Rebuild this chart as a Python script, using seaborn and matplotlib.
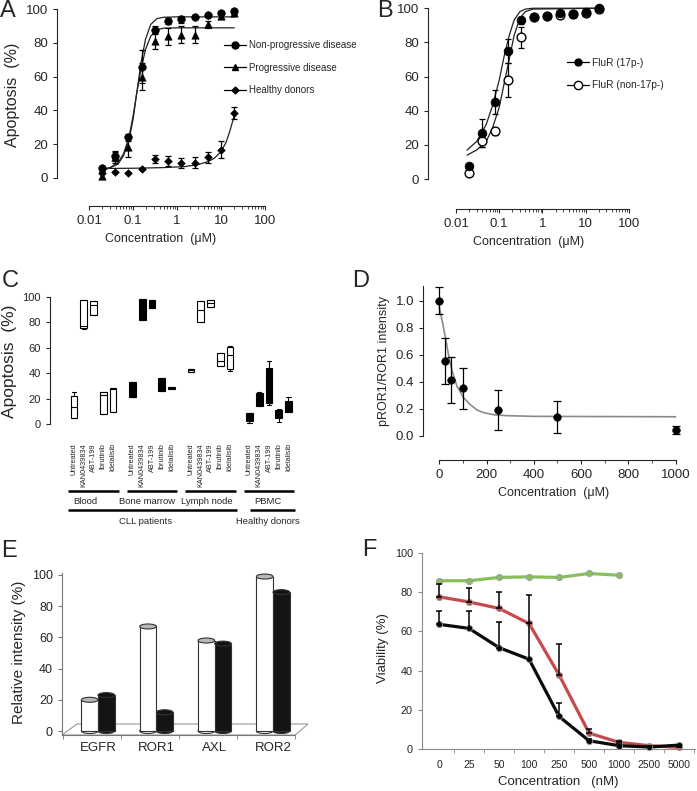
import numpy as np
import pandas as pd
import seaborn as sns
import matplotlib.pyplot as plt
import matplotlib.transforms as mtransforms
from matplotlib.lines import Line2D
from matplotlib.patches import Ellipse, Polygon
from matplotlib.ticker import FixedLocator

W, H = 697, 791

# ---------------- data ----------------
# panel A / B : concentration (uM)
conc_um = [0.0195, 0.039, 0.078, 0.156, 0.3125, 0.625, 1.25, 2.5, 5, 10, 20]
np_mean = [5.5, 13, 24, 66, 88, 93, 94, 95.5, 96.5, 98, 99]
np_err = [1.5, 3, 2, 10, 2, 2, 2, 1, 1, 1, 1]
pd_mean = [1, 12, 18, 60, 81, 84, 85, 85, 91, 96, 98]
pd_err = [1.5, 3, 5.5, 8, 4.5, 5, 5, 5, 2, 1.5, 1]
hd_mean = [2.5, 3.5, 3, 5, 11, 10, 8.5, 9, 12, 16.5, 38.5]
hd_err = [0.5, 0.5, 0.5, 0.5, 2.5, 3, 3, 3, 3.5, 5, 3.5]

fitA_x = [0.0195, 0.03, 0.045, 0.06, 0.08, 0.1, 0.12, 0.15, 0.19, 0.25, 0.35, 0.5, 1, 20]
fitA_np = [5, 6, 8, 13, 22, 35, 50, 68, 82, 91, 94.5, 95.3, 95.5, 95.5]
fitA_pd = [4, 6, 9, 14, 24, 37, 50, 64, 76, 84, 88, 88.8, 89, 89]
fitA_hd_x = [0.0195, 0.1, 0.5, 1.5, 3, 5, 7, 10, 13, 16, 20]
fitA_hd = [5.5, 5.6, 6, 6.6, 7.8, 9.5, 11.5, 15.5, 21, 28, 37]

r17_mean = [7.8, 27, 45, 75, 93, 95, 95.5, 97, 96.7, 98, 100]
r17_err = [1, 8, 7, 7, 2, 1, 1, 1, 1, 1, 0.5]
n17_mean = [3.7, 22, 28, 58, 83, 95, 95.5, 96, 96.5, 97.5, 99.5]
n17_err = [1, 3, 2, 10, 6, 1, 1, 1, 1, 1, 0.5]
fitB_x = [0.018, 0.03, 0.05, 0.07, 0.1, 0.13, 0.17, 0.22, 0.3, 0.4, 0.6, 20]
fitB_17 = [17, 22, 32, 43, 58, 72, 84, 93, 98, 99.5, 100, 100]
fitB_n17 = [14, 17, 22, 30, 42, 56, 70, 84, 94, 98, 99.5, 100]

# panel C : box plots
groups = ['Blood', 'Bone marrow', 'Lymph node', 'PBMC']
treatments = ['Untreated', 'KAN0439834', 'ABT-199', 'Ibrutinib', 'Idelalisib']
c_q1 = [5, 76, 86, 7.6, 9.4,  21.5, 82, 91.6, 26, 27.7,  41, 80.4, 92, 45.5, 43.7,  2.6, 14.4, 16.2, 5, 9.2]
c_med = [13, 77, 93.5, 23, 27.5,  27, 90, 95, 31, 28.5,  42.4, 89.5, 95, 50, 54,  5, 19, 30, 8, 14]
c_q3 = [22, 98, 97, 25, 28.5,  33, 98.7, 98, 36, 29.3,  43.7, 97, 98, 56, 60.7,  8.9, 24.6, 44.2, 11, 18.3]
c_lo = [5, 75, 86, 7.6, 9.4,  21.5, 82, 91.6, 26, 27.7,  41, 80.4, 92, 45.5, 42,  1, 14.4, 15, 1.3, 9.2]
c_hi = [25, 98, 97, 25, 28.5,  33, 98.7, 98, 36, 29.3,  43.7, 97, 98, 56, 61.5,  8.9, 25.4, 49.7, 11.5, 21.5]

# panel D
d_conc = [0, 25, 50, 100, 250, 500, 1000]
d_mean = [1.0, 0.55, 0.41, 0.35, 0.19, 0.14, 0.04]
d_err = [0.1, 0.17, 0.17, 0.15, 0.15, 0.12, 0.03]
fitD_x = [0, 11, 25, 40, 54, 75, 103, 131, 160, 188, 230, 287, 400, 1000]
fitD_y = [0.95, 0.86, 0.735, 0.59, 0.48, 0.365, 0.28, 0.23, 0.19, 0.17, 0.155, 0.148, 0.143, 0.14]

# panel E
genes = ['EGFR', 'ROR1', 'AXL', 'ROR2']
e_white = [20, 67, 58, 99]
e_black = [23, 12, 56, 89]

# panel F
f_conc = ['0', '25', '50', '100', '250', '500', '1000', '2500', '5000']
f_green = [85.8, 85.8, 87.5, 87.8, 87.5, 89.5, 88.6]
f_red = [77.6, 75, 71.7, 64, 37.8, 8.1, 3.4, 1.7, 0.8]
f_red_up = [6.4, 7, 8.6, 14.5, 15.8, 2.3, 0.5, 0, 0]
f_black = [63.6, 61.5, 51.7, 45.8, 16.6, 4.2, 1.7, 1, 2]
f_black_up = [7, 9, 13.3, 18.5, 7, 1, 1, 0, 0]

# ---------------- style ----------------
sns.set_style('ticks')
plt.rcParams['font.family'] = ['Liberation Sans', 'DejaVu Sans']
plt.rcParams['axes.linewidth'] = 0.8
plt.rcParams['xtick.major.width'] = 0.8
plt.rcParams['ytick.major.width'] = 0.8

fig = plt.figure(figsize=(W / 100, H / 100), dpi=100)


def box(l, t, r, b):
    return [l / W, 1 - b / H, (r - l) / W, (b - t) / H]


def letter(x, y, s):
    fig.text(x / W, 1 - y / H, s, fontsize=17, va='top', ha='left')


def log_axis(ax, left, outward):
    ax.set_xscale('log')
    ax.set_xlim(left, 100)
    sns.despine(ax=ax)
    ax.spines['left'].set_bounds(0, 100)
    ax.spines['bottom'].set_position(('outward', outward))
    ax.spines['bottom'].set_bounds(0.01, 100)
    ax.set_xticks([0.01, 0.1, 1, 10, 100], ['0.01', '0.1', '1', '10', '100'])
    ax.xaxis.set_minor_locator(FixedLocator([k * 10.0 ** e for e in range(-2, 2) for k in range(2, 10)]))
    ax.xaxis.set_minor_formatter(plt.NullFormatter())
    ax.set_yticks(range(0, 101, 20))
    ax.tick_params(labelsize=9.5, length=3)
    ax.tick_params(axis='x', which='minor', length=2, width=0.6)
    ax.set_xlabel('Concentration  (\u03bcM)', fontsize=9)


# ---------------- A ----------------
axA = fig.add_axes(box(57, 6, 265, 183))
for fy in (fitA_np, fitA_pd):
    sns.lineplot(x=fitA_x, y=fy, ax=axA, color='#222222', lw=0.9)
sns.lineplot(x=fitA_hd_x, y=fitA_hd, ax=axA, color='#222222', lw=0.9)
for m, e, mk, ms in ((np_mean, np_err, 'o', 30), (pd_mean, pd_err, '^', 28), (hd_mean, hd_err, 'D', 16)):
    axA.errorbar(conc_um, m, yerr=e, fmt='none', ecolor='k', elinewidth=0.9, capsize=2.5, capthick=0.9)
    sns.scatterplot(x=conc_um, y=m, marker=mk, s=ms, color='k', edgecolor='k', ax=axA, zorder=3, clip_on=False)
axA.set_ylim(-3.15, 101.96)
log_axis(axA, 0.001845, 16.6)
axA.set_ylabel('Apoptosis  (%)', fontsize=11.5)
handles = [Line2D([], [], color='k', lw=0.9, marker=mk, ms=ms) for mk, ms in (('o', 5), ('^', 5), ('D', 3.5))]
axA.legend(handles, ['Non-progressive disease', 'Progressive disease', 'Healthy donors'],
           loc='upper left', bbox_to_anchor=(224 / W, 1 - 40 / H), bbox_transform=fig.transFigure,
           frameon=False, fontsize=7, handlelength=2.3, handletextpad=0.3, labelspacing=1.3,
           borderpad=0, borderaxespad=0)

# ---------------- B ----------------
axB = fig.add_axes(box(428, 5, 629, 183))
sns.lineplot(x=fitB_x, y=fitB_17, ax=axB, color='#222222', lw=0.9)
sns.lineplot(x=fitB_x, y=fitB_n17, ax=axB, color='#222222', lw=0.9)
axB.errorbar(conc_um, n17_mean, yerr=n17_err, fmt='none', ecolor='k', elinewidth=0.9, capsize=2.5, capthick=0.9)
axB.errorbar(conc_um, r17_mean, yerr=r17_err, fmt='none', ecolor='k', elinewidth=0.9, capsize=2.5, capthick=0.9)
sns.scatterplot(x=conc_um, y=n17_mean, marker='o', s=40, color='white', edgecolor='k', linewidth=1.0,
                ax=axB, zorder=3, clip_on=False)
sns.scatterplot(x=conc_um, y=r17_mean, marker='o', s=40, color='k', edgecolor='k', ax=axB, zorder=4, clip_on=False)
axB.set_ylim(-2.3, 101.9)
log_axis(axB, 0.002254, 18.7)
handles = [Line2D([], [], color='k', lw=0.9, marker='o', ms=5),
           Line2D([], [], color='k', lw=0.9, marker='o', ms=6, mfc='white')]
axB.legend(handles, ['FluR (17p-)', 'FluR (non-17p-)'], loc='upper left',
           bbox_to_anchor=(567 / W, 1 - 58 / H), bbox_transform=fig.transFigure,
           frameon=False, fontsize=7.3, handlelength=2.2, handletextpad=0.3, labelspacing=1.2,
           borderpad=0, borderaxespad=0)

# ---------------- C ----------------
axC = fig.add_axes(box(50, 295, 300, 428))
pos = [g * 6 + i for g in range(len(groups)) for i in range(len(treatments))]
stats = [dict(q1=c_q1[k], med=c_med[k], q3=c_q3[k], whislo=c_lo[k], whishi=c_hi[k], fliers=[])
         for k in range(len(pos))]
bp = axC.bxp(stats, positions=pos, widths=0.7, capwidths=0.45, patch_artist=True,
             boxprops=dict(lw=0.8, edgecolor='k'), medianprops=dict(color='k', lw=0.8),
             whiskerprops=dict(lw=0.8), capprops=dict(lw=0.8), manage_ticks=False)
for k, patch in enumerate(bp['boxes']):
    patch.set_facecolor('white' if (k // 5) % 2 == 0 else 'black')
axC.set_xlim(-2.46, 23.18)
axC.set_ylim(-3.15, 101.6)
sns.despine(ax=axC, bottom=True)
axC.spines['left'].set_bounds(0, 100)
axC.set_yticks(range(0, 101, 20))
axC.tick_params(axis='y', labelsize=8, length=3)
axC.set_xticks(pos, treatments * 4, rotation=90, fontsize=5.2)
axC.tick_params(axis='x', length=0, pad=11)
axC.set_ylabel('Apoptosis  (%)', fontsize=12.5)
tr = mtransforms.blended_transform_factory(axC.transData, axC.transAxes)


def fy(py):
    return (428 - py) / 133


for g, name in enumerate(groups):
    axC.plot([g * 6 - 0.6, g * 6 + 4.6], [fy(491)] * 2, color='k', lw=1.8, transform=tr, clip_on=False,
             solid_capstyle='butt')
for x0, x1 in ((-0.6, 16.7), (18.05, 22.67)):
    axC.plot([x0, x1], [fy(510)] * 2, color='k', lw=1.8, transform=tr, clip_on=False, solid_capstyle='butt')
for xc, name in zip([1.13, 7.5, 13.6, 19.9], groups):
    axC.text(xc, fy(501), name, transform=tr, ha='center', va='center', fontsize=6.8)
axC.text(7.3, fy(521), 'CLL patients', transform=tr, ha='center', va='center', fontsize=6.8)
axC.text(19.9, fy(521), 'Healthy donors', transform=tr, ha='center', va='center', fontsize=6.8)

# ---------------- D ----------------
axD = fig.add_axes(box(423, 283, 685, 440))
sns.lineplot(x=fitD_x, y=fitD_y, ax=axD, color='#8a8a8a', lw=1.2)
axD.errorbar(d_conc, d_mean, yerr=d_err, fmt='none', ecolor='k', elinewidth=0.9, capsize=3, capthick=0.9)
sns.scatterplot(x=d_conc, y=d_mean, s=30, color='k', edgecolor='k', ax=axD, zorder=3)
axD.set_xlim(-69, 1040)
axD.set_ylim(-0.032, 1.13)
sns.despine(ax=axD)
axD.spines['left'].set_bounds(0, 1.11)
axD.spines['bottom'].set_position(('outward', 14.4))
axD.spines['bottom'].set_bounds(0, 1000)
axD.set_xticks(range(0, 1001, 200))
axD.xaxis.set_minor_locator(FixedLocator(range(100, 1000, 200)))
axD.set_yticks([0, 0.2, 0.4, 0.6, 0.8, 1.0], ['0.0', '0.2', '0.4', '0.6', '0.8', '1.0'])
axD.tick_params(labelsize=9.5, length=3)
axD.tick_params(axis='x', which='minor', length=2, width=0.6)
axD.set_xlabel('Concentration  (\u03bcM)', fontsize=9)
axD.set_ylabel('pROR1/ROR1 intensity', fontsize=9)

# ---------------- E ----------------
axE = fig.add_axes(box(62, 570, 308, 735))
dfE = pd.DataFrame({'gene': genes * 2, 'value': e_white + e_black,
                    'series': ['white'] * len(genes) + ['black'] * len(genes)})
sns.barplot(data=dfE, x='gene', y='value', hue='series', palette={'white': 'white', 'black': '#141414'},
            width=0.57, edgecolor='#333333', linewidth=0.8, legend=False, ax=axE, zorder=2)
bars = list(axE.patches)
for p in bars:
    cx = p.get_x() + p.get_width() / 2
    white = p.get_facecolor()[0] > 0.5
    axE.add_patch(Ellipse((cx, 0), p.get_width(), 3.2, facecolor=p.get_facecolor(), edgecolor='#333333',
                          lw=0.8, zorder=1.9))
    axE.add_patch(Ellipse((cx, p.get_height()), p.get_width(), 3.2,
                          facecolor='#b8b8b8' if white else '#141414', edgecolor='#333333', lw=0.8, zorder=2.1))
axE.set_xlim(-0.617, 3.6)
axE.set_ylim(-2.56, 103.2)
axE.add_patch(Polygon([(-0.617, -2.56), (-0.36, 4.5), (3.6, 4.5), (3.38, -2.56)], closed=True,
                      facecolor='white', edgecolor='#999999', lw=0.8, zorder=0.5, clip_on=False))
sns.despine(ax=axE)
axE.spines['left'].set_bounds(-2.56, 101)
axE.spines['left'].set_color('#777777')
axE.spines['bottom'].set_bounds(-0.617, 3.38)
axE.spines['bottom'].set_color('#777777')
axE.set_yticks(range(0, 101, 20))
axE.xaxis.set_minor_locator(FixedLocator([-0.6, 0.39, 1.39, 2.39, 3.38]))
axE.tick_params(axis='x', which='major', length=0, labelsize=9.5, pad=5)
axE.tick_params(axis='x', which='minor', length=3, color='#777777')
axE.tick_params(axis='y', labelsize=9, length=3, color='#777777')
axE.set_xlabel('')
axE.set_ylabel('Relative intensity (%)', fontsize=11)

# ---------------- F ----------------
axF = fig.add_axes(box(422, 548, 695, 749))
xF = list(range(len(f_conc)))
axF.errorbar(xF, f_red, yerr=[[0] * len(f_red), f_red_up], fmt='none', ecolor='k', elinewidth=1.1,
             capsize=2.5, capthick=1.1, zorder=4)
axF.errorbar(xF, f_black, yerr=[[0] * len(f_black), f_black_up], fmt='none', ecolor='k', elinewidth=1.1,
             capsize=2.5, capthick=1.1, zorder=4)
for yv, col in ((f_green, '#86c05a'), (f_red, '#c8494b'), (f_black, '#0a0a0a')):
    sns.lineplot(x=xF[:len(yv)], y=yv, ax=axF, color=col, lw=2.3, marker='o', markersize=4.5,
                 markeredgecolor='#9a9a9a', markeredgewidth=0.6, zorder=3, clip_on=False)
axF.set_xlim(-0.567, 8.53)
axF.set_ylim(0, 102.5)
sns.despine(ax=axF)
for s in ('left', 'bottom'):
    axF.spines[s].set_color('#8c8c8c')
axF.spines['left'].set_bounds(0, 100)
axF.set_xticks(xF, f_conc)
axF.xaxis.set_minor_locator(FixedLocator([i + 0.5 for i in xF]))
axF.tick_params(axis='x', which='major', length=0, labelsize=7.5, pad=8)
axF.tick_params(axis='x', which='minor', length=3, color='#8c8c8c')
axF.set_yticks(range(0, 101, 20))
axF.tick_params(axis='y', labelsize=7.8, length=3, color='#8c8c8c')
axF.set_xlabel('Concentration   (nM)', fontsize=9.5)
axF.set_ylabel('Viability (%)', fontsize=9.5)

letter(0, 0, 'A')
letter(377, 0, 'B')
letter(2, 270, 'C')
letter(352, 270, 'D')
letter(1, 540, 'E')
letter(362, 539, 'F')

fig.savefig('out.png', dpi=100)
